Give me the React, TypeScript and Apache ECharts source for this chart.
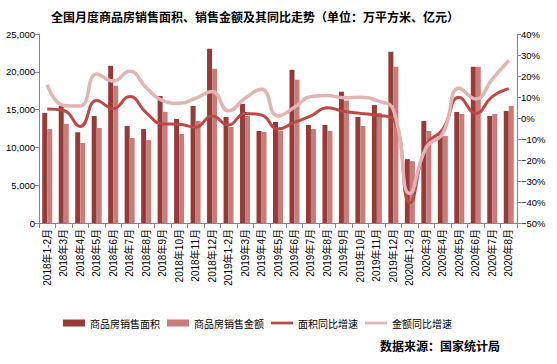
import React, { useEffect, useRef } from "react";
import * as echarts from "echarts";

const categories = [
  "2018年1-2月", "2018年3月", "2018年4月", "2018年5月", "2018年6月", "2018年7月", "2018年8月",
  "2018年9月", "2018年10月", "2018年11月", "2018年12月",
  "2019年1-2月", "2019年3月", "2019年4月", "2019年5月", "2019年6月", "2019年7月", "2019年8月",
  "2019年9月", "2019年10月", "2019年11月", "2019年12月",
  "2020年1-2月", "2020年3月", "2020年4月", "2020年5月", "2020年6月", "2020年7月", "2020年8月",
];

const salesArea = [
  14560, 15490, 12000, 14160, 20800, 12830, 12430, 16800, 13760, 15490, 23050,
  14030, 15750, 12170, 13360, 20270, 12960, 12960, 17350, 14030, 15600, 22650,
  8450, 13500, 11900, 14690, 20660, 14160, 14820,
];

const salesAmount = [
  12430, 13100, 10580, 12570, 18140, 11240, 10970, 14700, 11770, 13500, 20400,
  12700, 14160, 12040, 12200, 18940, 12430, 12170, 16200, 12830, 14560, 20660,
  8190, 12170, 11500, 14420, 20660, 14420, 15490,
];

const areaYoY = [
  4.3, 3.6, -4.0, 8.3, 4.5, 10.2, 2.6, -2.8, -3.0, -4.4, 1.0,
  -3.3, 2.2, 1.4, -5.2, -2.1, 1.0, 4.9, 3.2, 2.2, 1.3, -0.6,
  -40.4, -12.9, -5.4, 9.9, 2.2, 10.2, 14.0,
];

const amountYoY = [
  15.8, 6.0, 5.7, 21.0, 17.6, 22.3, 14.5, 8.3, 7.0, 9.4, 12.6,
  3.4, 9.4, 13.7, 1.0, 5.1, 10.2, 10.7, 9.7, 9.9, 8.3, 3.8,
  -36.0, -14.0, -7.3, 14.2, 9.1, 18.5, 27.4,
];

const leftTicks = { min: 0, max: 25000, interval: 5000 };
const rightTicks = { min: -50, max: 40, interval: 10 };

const seriesNames = ["商品房销售面积", "商品房销售金额", "面积同比增速", "金额同比增速"];

export default function App() {
  const ref = useRef<HTMLDivElement>(null);
  useEffect(() => {
    if (!ref.current) return;
    const chart = echarts.init(ref.current, null, { renderer: "svg" });
    const font = "'Liberation Sans', 'Noto Sans CJK SC', sans-serif";
    const cjk = "'Noto Sans CJK SC', sans-serif";
    const axisColor = "#868686";
    const lineIcon = "path://M0,0 L24,0 L24,3 L0,3 Z";
    chart.setOption({
      animation: false,
      backgroundColor: "#ffffff",
      textStyle: { fontFamily: font },
      title: [
        {
          text: "全国月度商品房销售面积、销售金额及其同比走势（单位：万平方米、亿元）",
          left: 46,
          top: 5,
          textStyle: { fontSize: 12, fontWeight: "bold", color: "#000", fontFamily: cjk },
        },
        {
          text: "数据来源：国家统计局",
          right: 52,
          top: 334,
          textStyle: { fontSize: 12, fontWeight: "bold", color: "#000", fontFamily: cjk },
        },
      ],
      legend: {
        left: 58,
        top: 313,
        itemWidth: 22,
        itemHeight: 7,
        itemGap: 7,
        symbolKeepAspect: true,
        textStyle: { fontSize: 10, color: "#000", fontFamily: cjk },
        data: [
          { name: seriesNames[0], icon: "rect" },
          { name: seriesNames[1], icon: "rect" },
          { name: seriesNames[2], icon: lineIcon },
          { name: seriesNames[3], icon: lineIcon },
        ],
      },
      grid: { left: 39, right: 40, top: 34, height: 189 },
      xAxis: {
        type: "category",
        data: categories,
        boundaryGap: true,
        axisLine: { lineStyle: { color: axisColor } },
        axisTick: { show: true, length: 5, alignWithLabel: false, lineStyle: { color: axisColor } },
        axisLabel: { interval: 0, rotate: 90, fontSize: 10, color: "#000", margin: 6 },
      },
      yAxis: [
        {
          type: "value",
          ...leftTicks,
          splitLine: { show: false },
          axisLine: { show: true, lineStyle: { color: axisColor } },
          axisTick: { show: true, length: 4, lineStyle: { color: axisColor } },
          axisLabel: { fontSize: 9.5, color: "#000", margin: 4 },
        },
        {
          type: "value",
          ...rightTicks,
          position: "right",
          splitLine: { show: false },
          axisLine: { show: true, lineStyle: { color: axisColor } },
          axisTick: { show: true, length: 4, lineStyle: { color: axisColor } },
          axisLabel: {
            fontSize: 9.5,
            color: "#000",
            margin: 4,
            formatter: (v: number) => (v < 0 ? "−" + -v : String(v)) + "%",
          },
        },
      ],
      series: [
        {
          name: seriesNames[0],
          type: "bar",
          data: salesArea,
          barWidth: 5,
          barGap: "0%",
          itemStyle: { color: "#973a38" },
        },
        {
          name: seriesNames[1],
          type: "bar",
          data: salesAmount,
          barWidth: 5,
          barGap: "0%",
          itemStyle: { color: "#c97d7a" },
        },
        {
          name: seriesNames[2],
          type: "line",
          yAxisIndex: 1,
          data: areaYoY,
          smooth: 0.5,
          symbol: "none",
          lineStyle: { color: "#bd4845", width: 3 },
          itemStyle: { color: "#bd4845" },
        },
        {
          name: seriesNames[3],
          type: "line",
          yAxisIndex: 1,
          data: amountYoY,
          smooth: 0.5,
          symbol: "none",
          lineStyle: { color: "#e2b4b3", width: 3.5 },
          itemStyle: { color: "#e2b4b3" },
        },
      ],
    });
    return () => chart.dispose();
  }, []);
  return (
    <div
      ref={ref}
      style={{ position: "fixed", left: 0, top: 0, width: 557, height: 364, background: "#fff" }}
    />
  );
}
